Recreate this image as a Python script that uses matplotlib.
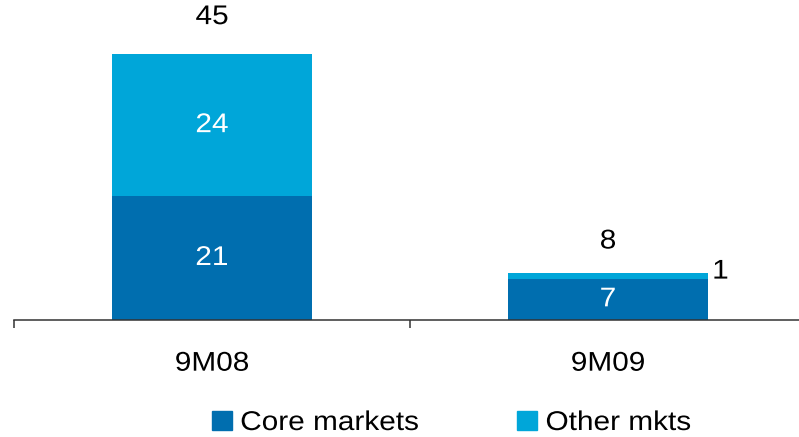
import matplotlib.pyplot as plt
from matplotlib.patches import Patch
from matplotlib.patheffects import AbstractPathEffect
from matplotlib.transforms import Affine2D

plt.rcParams['font.family'] = ['Liberation Sans', 'DejaVu Sans']

periods = ["9M08", "9M09"]
core = [21, 7]
other = [24, 1]
totals = [45, 8]

core_color = "#006EAF"
other_color = "#00A6D9"
fs = 19.5


class Widen(AbstractPathEffect):
    """Stretch glyphs horizontally, about their centre or left edge."""

    def __init__(self, sx=1.1, anchor="center"):
        super().__init__()
        self.sx = sx
        self.anchor = anchor

    def draw_path(self, renderer, gc, tpath, affine, rgbFace=None):
        if self.anchor == "center":
            ext = tpath.get_extents()
            cx = (ext.x0 + ext.x1) / 2
        else:
            cx = 0
        stretch = Affine2D().translate(-cx, 0).scale(self.sx, 1).translate(cx, 0)
        renderer.draw_path(gc, tpath, stretch + affine, rgbFace)


wide_c = [Widen(1.1, "center")]
wide_l = [Widen(1.1, "left")]

fig = plt.figure(figsize=(7.99, 4.37), dpi=100)
# axes run a bit past the right edge so the last tick is cut off
ax = fig.add_axes([14 / 799, 117 / 437, 792 / 799, 320 / 437])

x = list(range(len(periods)))
ax.bar(x, core, width=0.503, color=core_color)
ax.bar(x, other, width=0.503, bottom=core, color=other_color)

ax.set_xlim(-0.5, 1.5)
ax.set_ylim(0, 54.2)

# segment labels
for i in x:
    ax.text(i, core[i] / 2, str(core[i]), ha="center", va="center",
            color="white", fontsize=fs, path_effects=wide_c)
ax.text(0, totals[0] + 6.3, str(totals[0]), ha="center", va="center",
        fontsize=fs, path_effects=wide_c)
ax.text(1, totals[1] + 5.3, str(totals[1]), ha="center", va="center",
        fontsize=fs, path_effects=wide_c)
# big segment label inside, small one beside the bar
ax.text(0, core[0] + other[0] / 2, str(other[0]), ha="center", va="center",
        color="white", fontsize=fs, path_effects=wide_c)
ax.text(1.263, core[1] + other[1] + 0.2, str(other[1]), ha="left", va="center",
        fontsize=fs, path_effects=wide_l)

for s in ["top", "right", "left"]:
    ax.spines[s].set_visible(False)
ax.spines["bottom"].set_color("#333333")
ax.spines["bottom"].set_linewidth(1.1)
ax.set_yticks([])
ax.set_xticks([-0.5, 0.5, 1.5])
ax.set_xticklabels([])
ax.tick_params(axis="x", length=6, width=1.1, color="#333333", direction="out")
for i, p in enumerate(periods):
    ax.text(i, -7.4, p, ha="center", va="center", fontsize=fs, path_effects=wide_c)

handles = [Patch(color=core_color, label="Core markets"),
           Patch(color=other_color, label="Other mkts")]
leg = fig.legend(handles=handles, loc="center left",
                 bbox_to_anchor=(212 / 799, 14 / 437), ncol=2, frameon=False,
                 fontsize=fs, handlelength=0.74, handleheight=0.72,
                 handletextpad=0.3, columnspacing=4.22,
                 borderpad=0, borderaxespad=0)
for t in leg.get_texts():
    t.set_path_effects(wide_l)

fig.savefig("out.png", dpi=100)
